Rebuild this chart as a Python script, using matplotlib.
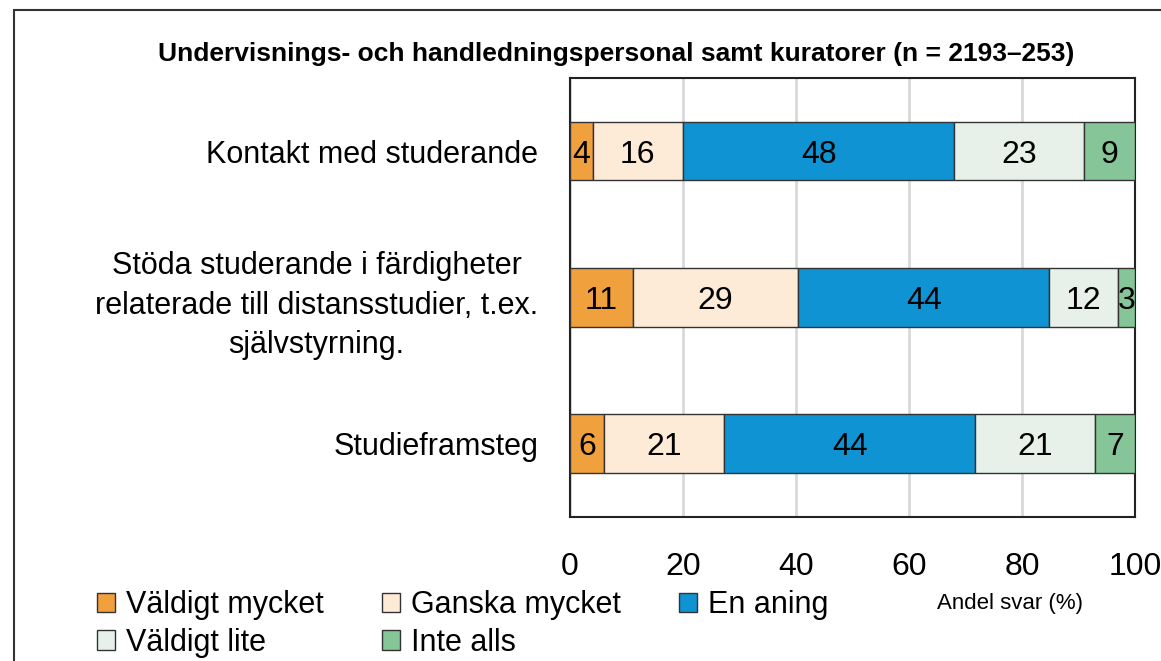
import numpy as np
import matplotlib.pyplot as plt
from matplotlib.patches import Patch, Rectangle

plt.rcParams['font.family'] = ['Liberation Sans Narrow', 'Liberation Sans', 'DejaVu Sans']

####### Data #######
title = "Undervisnings- och handledningspersonal samt kuratorer (n = 2193–253)"
categories = ["Kontakt med studerande",
              "Stöda studerande i färdigheter\nrelaterade till distansstudier, t.ex.\nsjälvstyrning.",
              "Studieframsteg"]
series_names = ["Väldigt mycket", "Ganska mycket", "En aning", "Väldigt lite", "Inte alls"]
valdigt_mycket = [4, 11, 6]
ganska_mycket = [16, 29, 21]
en_aning = [48, 44, 44]
valdigt_lite = [23, 12, 21]
inte_alls = [9, 3, 7]
x_ticks = [0, 20, 40, 60, 80, 100]
x_label = "Andel svar (%)"

colors = ["#F0A03C", "#FDEBD8", "#0F93D2", "#E7F1E9", "#85C597"]

####### Plot #######
values = np.array([valdigt_mycket, ganska_mycket, en_aning, valdigt_lite, inte_alls], dtype=float)
shares = values / values.sum(axis=0) * 100  # 100 % stacked, like the original

fig = plt.figure(figsize=(11.61, 6.61), dpi=100)
ax = fig.add_axes([0.491, 0.218, 0.4866, 0.664])

y = np.arange(len(categories))
left = np.zeros(len(categories))
handles = []
for counter1 in range(len(series_names)):
    bars = ax.barh(y, shares[counter1], left=left, height=0.4, color=colors[counter1],
                   edgecolor="#333333", linewidth=1.0, zorder=3)
    for counter2 in range(len(categories)):
        ax.text(left[counter2] + shares[counter1][counter2] / 2, y[counter2],
                "%d" % values[counter1][counter2], ha="center", va="center_baseline",
                fontsize=23, color="black", zorder=4)
    left += shares[counter1]
    handles += [Patch(facecolor=colors[counter1], edgecolor="#333333", linewidth=1.0,
                      label=series_names[counter1])]

ax.set_xlim(0, 100)
ax.set_ylim(len(categories) - 0.5, -0.5)
ax.set_xticks(x_ticks)
ax.set_xticklabels([str(t) for t in x_ticks], fontsize=23)
ax.set_yticks(y)
ax.set_yticklabels(categories, fontsize=22, multialignment="center", linespacing=1.4)
ax.tick_params(length=0)
ax.tick_params(axis="y", pad=23)
ax.tick_params(axis="x", pad=25)
ax.xaxis.grid(True, color="#d9d9d9", linewidth=2, zorder=0)
for spine in ax.spines.values():
    spine.set_color("#222222")
    spine.set_linewidth(1.5)

fig.text(0.5306, 0.919, title, ha="center", va="center", fontsize=19, fontweight="bold")
fig.text(0.87, 0.0877, x_label, ha="center", va="center", fontsize=16)

order = [0, 3, 1, 4, 2]
fig.legend([handles[i] for i in order], [series_names[i] for i in order],
           loc="upper left", bbox_to_anchor=(0.0836, 0.107), ncol=3, frameon=False,
           fontsize=22, handlelength=0.6, handleheight=0.6, handletextpad=0.35,
           columnspacing=1.9, labelspacing=0.24, borderaxespad=0, borderpad=0)

# outer frame of the original picture
fig.patches.append(Rectangle((0.012, -0.1), 1.2, 1.085, transform=fig.transFigure,
                             fill=False, edgecolor="#333333", linewidth=1.5))

fig.savefig("out.png", dpi=100)
